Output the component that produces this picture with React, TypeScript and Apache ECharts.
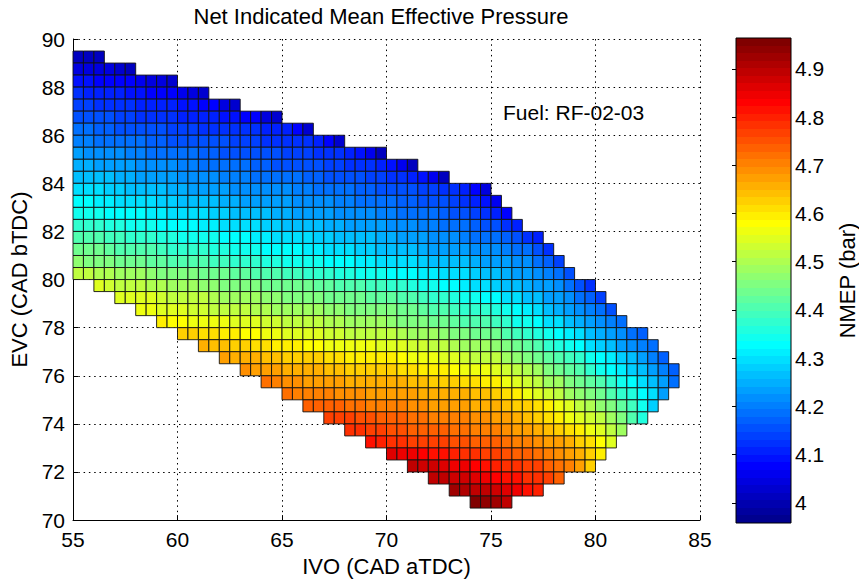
import React, { useEffect, useRef } from 'react';
import * as echarts from 'echarts';

const FONT = '"Liberation Sans", Arial, Helvetica, sans-serif';

const TITLE = 'Net Indicated Mean Effective Pressure';
const X_NAME = 'IVO (CAD aTDC)';
const Y_NAME = 'EVC (CAD bTDC)';
const CB_NAME = 'NMEP (bar)';
const FUEL_LABEL = 'Fuel: RF-02-03';

const xTicks = [55, 60, 65, 70, 75, 80, 85];
const yTicks = [70, 72, 74, 76, 78, 80, 82, 84, 86, 88, 90];
const colorbarTicks = [4.0, 4.1, 4.2, 4.3, 4.4, 4.5, 4.6, 4.7, 4.8, 4.9];
const colorRange = [3.958, 4.964];
const CELL = 0.5;

// lower edge of each row of cells (EVC)
const rowLowerEdges = [
  89, 88.5, 88, 87.5, 87, 86.5, 86, 85.5, 85, 84.5, 84, 83.5, 83, 82.5, 82, 81.5, 81, 80.5, 80,
  79.5, 79, 78.5, 78, 77.5, 77, 76.5, 76, 75.5, 75, 74.5, 74, 73.5, 73, 72.5, 72, 71.5, 71, 70.5,
];
// left edge of the first cell in each row (IVO)
const rowStarts = [
  55, 55, 55, 55, 55, 55, 55, 55, 55, 55, 55, 55, 55, 55, 55, 55, 55, 55, 55,
  56, 57, 58, 59, 60, 61, 62, 63, 64, 65, 66, 67, 68, 69, 70, 71, 72, 73, 74,
];
// NMEP of each cell, in hundredths of a bar, cells 0.5 CAD apart from the row start
const nmepRows: number[][] = [
  [402, 402, 401],
  [405, 405, 404, 404, 403, 402],
  [409, 409, 408, 408, 407, 407, 406, 405, 404, 403],
  [412, 411, 411, 410, 410, 409, 409, 408, 408, 407, 406, 405, 403],
  [414, 414, 413, 413, 412, 412, 411, 411, 410, 410, 409, 409, 408, 407, 405, 403],
  [416, 416, 415, 415, 414, 414, 413, 413, 412, 412, 411, 411, 410, 410, 409, 409, 408, 407, 405, 403],
  [418, 418, 417, 417, 416, 416, 416, 415, 415, 414, 414, 414, 413, 413, 413, 412, 412, 412, 411, 411, 410, 407, 403],
  [420, 420, 419, 419, 418, 418, 418, 417, 417, 416, 416, 416, 415, 415, 415, 414, 414, 414, 413, 413, 413, 412, 412, 410, 407, 403],
  [423, 422, 422, 421, 421, 420, 420, 419, 419, 418, 418, 418, 417, 417, 416, 416, 416, 415, 415, 415, 414, 414, 414, 413, 413, 412, 411, 409, 406, 402],
  [425, 425, 424, 424, 423, 423, 422, 422, 421, 421, 420, 420, 419, 419, 418, 418, 418, 417, 417, 416, 416, 416, 415, 415, 414, 414, 413, 413, 412, 411, 409, 406, 402],
  [427, 427, 426, 426, 425, 425, 424, 424, 423, 423, 422, 422, 421, 421, 420, 420, 420, 419, 419, 418, 418, 418, 417, 417, 416, 416, 415, 415, 414, 414, 413, 412, 411, 409, 406, 402],
  [430, 429, 429, 428, 428, 427, 427, 426, 426, 425, 425, 424, 424, 423, 423, 422, 422, 422, 421, 421, 421, 420, 420, 419, 419, 418, 418, 417, 417, 416, 416, 415, 415, 414, 414, 413, 412, 410, 408, 404],
  [432, 432, 431, 431, 430, 430, 429, 429, 428, 428, 427, 427, 426, 426, 425, 425, 424, 424, 424, 423, 423, 422, 422, 421, 421, 420, 420, 419, 419, 418, 418, 417, 417, 416, 416, 415, 414, 413, 411, 409, 406],
  [435, 434, 434, 433, 433, 432, 432, 431, 431, 430, 430, 429, 429, 428, 428, 427, 427, 426, 426, 425, 425, 424, 424, 423, 423, 422, 422, 421, 421, 420, 420, 419, 419, 418, 418, 417, 416, 415, 414, 413, 411, 408],
  [438, 437, 437, 436, 436, 435, 435, 434, 433, 433, 432, 432, 431, 431, 430, 430, 429, 429, 428, 428, 427, 427, 426, 426, 425, 425, 424, 424, 423, 423, 422, 422, 421, 420, 420, 419, 418, 418, 417, 416, 415, 413, 410],
  [441, 440, 440, 439, 439, 438, 437, 437, 436, 436, 435, 435, 434, 434, 433, 433, 432, 431, 431, 430, 430, 429, 429, 428, 428, 427, 427, 426, 426, 425, 425, 424, 424, 423, 422, 422, 421, 420, 419, 419, 418, 417, 415, 413, 411],
  [444, 443, 443, 442, 441, 441, 440, 440, 439, 438, 438, 437, 437, 436, 436, 435, 434, 434, 433, 433, 432, 432, 431, 431, 430, 429, 429, 428, 428, 427, 427, 426, 426, 425, 424, 424, 423, 423, 422, 421, 421, 420, 419, 418, 416, 413],
  [447, 446, 445, 445, 444, 444, 443, 442, 442, 441, 441, 440, 440, 439, 439, 438, 437, 437, 436, 436, 435, 435, 434, 434, 433, 432, 432, 431, 431, 430, 430, 429, 429, 428, 427, 427, 426, 426, 425, 424, 424, 423, 422, 421, 419, 417, 414],
  [452, 451, 450, 450, 449, 448, 448, 447, 446, 446, 445, 445, 444, 443, 443, 442, 442, 441, 440, 440, 439, 439, 438, 437, 437, 436, 436, 435, 434, 434, 433, 433, 432, 431, 431, 430, 429, 429, 428, 427, 426, 425, 424, 423, 422, 420, 418, 415],
  [454, 453, 452, 452, 451, 450, 450, 449, 448, 448, 447, 447, 446, 446, 445, 445, 444, 444, 444, 443, 443, 442, 442, 441, 440, 440, 439, 439, 438, 437, 436, 435, 434, 433, 432, 431, 430, 429, 428, 427, 426, 425, 424, 423, 421, 419, 416, 412],
  [455, 455, 454, 454, 453, 452, 452, 451, 451, 450, 449, 449, 448, 448, 447, 447, 446, 446, 445, 445, 444, 444, 443, 443, 442, 442, 442, 441, 440, 439, 438, 437, 436, 435, 434, 433, 432, 430, 429, 427, 426, 424, 423, 421, 419, 417, 414],
  [456, 456, 455, 455, 454, 453, 453, 452, 452, 451, 451, 450, 450, 449, 449, 449, 448, 448, 447, 447, 446, 446, 446, 445, 445, 444, 443, 442, 441, 440, 439, 438, 437, 437, 436, 434, 432, 431, 429, 427, 425, 424, 422, 420, 418, 416],
  [459, 458, 458, 457, 457, 456, 456, 455, 454, 454, 453, 453, 452, 452, 451, 451, 450, 450, 449, 449, 448, 448, 447, 446, 446, 445, 444, 443, 442, 441, 440, 440, 439, 437, 435, 434, 432, 430, 429, 427, 425, 424, 422, 420, 418],
  [463, 462, 461, 461, 460, 459, 458, 458, 457, 456, 455, 455, 454, 454, 453, 453, 452, 452, 452, 451, 451, 450, 449, 449, 448, 447, 446, 445, 444, 444, 443, 441, 439, 438, 436, 434, 432, 431, 429, 427, 425, 423, 421, 419, 417],
  [465, 464, 464, 463, 462, 461, 461, 460, 459, 459, 458, 458, 457, 457, 456, 456, 456, 455, 455, 454, 453, 453, 452, 451, 450, 449, 448, 448, 447, 445, 443, 442, 440, 438, 436, 434, 432, 430, 428, 426, 424, 422, 420, 418],
  [467, 466, 466, 465, 464, 464, 463, 463, 462, 462, 461, 461, 460, 460, 460, 459, 459, 458, 457, 457, 456, 455, 454, 453, 452, 452, 451, 449, 447, 446, 444, 442, 440, 439, 437, 435, 433, 431, 428, 426, 423, 420, 417],
  [469, 468, 467, 467, 466, 466, 465, 465, 464, 464, 463, 463, 463, 462, 462, 461, 461, 460, 459, 459, 458, 457, 456, 456, 455, 453, 451, 450, 448, 446, 444, 442, 440, 438, 435, 433, 431, 428, 426, 423, 420, 417],
  [472, 470, 469, 469, 468, 468, 467, 467, 466, 466, 466, 465, 465, 465, 464, 464, 463, 463, 462, 461, 461, 460, 459, 457, 455, 453, 451, 449, 448, 446, 444, 442, 440, 437, 435, 433, 430, 427, 423, 419],
  [472, 471, 471, 470, 470, 469, 469, 469, 468, 468, 467, 467, 467, 466, 466, 465, 465, 465, 464, 464, 463, 461, 459, 457, 455, 453, 451, 449, 447, 445, 443, 441, 438, 436, 433, 429, 424],
  [474, 474, 473, 473, 472, 472, 471, 471, 470, 470, 469, 469, 468, 468, 467, 467, 466, 466, 465, 464, 463, 462, 461, 459, 457, 454, 452, 450, 447, 445, 442, 439, 435, 428],
  [477, 476, 476, 475, 475, 474, 473, 473, 472, 472, 471, 471, 470, 470, 469, 469, 468, 467, 466, 464, 462, 461, 459, 457, 455, 453, 451, 448, 445, 441, 436],
  [479, 478, 477, 476, 475, 475, 474, 474, 473, 473, 472, 472, 471, 471, 470, 469, 468, 467, 466, 464, 463, 461, 459, 457, 454, 452, 449],
  [482, 480, 478, 478, 477, 477, 476, 476, 475, 475, 474, 474, 473, 472, 471, 470, 469, 468, 467, 465, 463, 461, 458, 454],
  [486, 485, 484, 483, 482, 481, 480, 479, 478, 477, 476, 475, 474, 473, 472, 471, 469, 467, 465, 462, 459],
  [489, 488, 487, 486, 485, 484, 483, 482, 480, 479, 478, 477, 476, 474, 472, 470, 467, 463],
  [490, 489, 488, 487, 486, 485, 483, 482, 481, 479, 478, 476, 473],
  [492, 491, 490, 489, 487, 486, 484, 482, 480],
  [495, 494, 492, 490],
];

// MATLAB jet(64) colormap
function jetMap(m: number): string[] {
  const n = Math.ceil(m / 4);
  const u: number[] = [];
  for (let i = 1; i <= n; i++) u.push(i / n);
  for (let i = 0; i < n - 1; i++) u.push(1);
  for (let i = n; i >= 1; i--) u.push(i / n);
  const g0 = Math.ceil(n / 2) - (m % 4 === 1 ? 1 : 0);
  const R = new Array(m).fill(0);
  const G = new Array(m).fill(0);
  const B = new Array(m).fill(0);
  for (let k = 0; k < u.length; k++) {
    const g = g0 + k + 1;
    const r = g + n;
    const b = g - n;
    if (g >= 1 && g <= m) G[g - 1] = u[k];
    if (r >= 1 && r <= m) R[r - 1] = u[k];
    if (b >= 1 && b <= m) B[b - 1] = u[k];
  }
  const h = (v: number) => Math.round(v * 255).toString(16).padStart(2, '0');
  return R.map((_, i) => '#' + h(R[i]) + h(G[i]) + h(B[i]));
}
const JET = jetMap(64);
function colorOf(v: number): string {
  const t = (v - colorRange[0]) / (colorRange[1] - colorRange[0]);
  const idx = Math.min(JET.length - 1, Math.max(0, Math.floor(t * JET.length)));
  return JET[idx];
}

const cells: number[][] = [];
nmepRows.forEach((row, r) => {
  row.forEach((v, i) => {
    cells.push([rowStarts[r] + i * CELL, rowLowerEdges[r], v / 100]);
  });
});

const gradientStops: { offset: number; color: string }[] = [];
JET.forEach((c, k) => {
  gradientStops.push({ offset: k / JET.length, color: c });
  gradientStops.push({ offset: (k + 1) / JET.length, color: c });
});

const gridLine = { show: true, lineStyle: { color: '#000', width: 1, type: [1.5, 3.8] as number[] } };

export default function App() {
  const ref = useRef<HTMLDivElement>(null);
  useEffect(() => {
    const chart = echarts.init(ref.current!, null, { renderer: 'svg' });
    const option: any = {
      animation: false,
      backgroundColor: '#ffffff',
      textStyle: { fontFamily: FONT, color: '#000' },
      title: {
        text: TITLE,
        left: 381,
        top: 5,
        padding: 0,
        textAlign: 'center',
        textStyle: { fontFamily: FONT, fontSize: 22, fontWeight: 'normal', color: '#000' },
      },
      graphic: [
        {
          type: 'text',
          x: 503,
          y: 112,
          style: {
            text: FUEL_LABEL,
            fontFamily: FONT,
            fontSize: 21,
            fill: '#000',
            align: 'left',
            verticalAlign: 'middle',
          },
        },
      ],
      grid: [
        { left: 73, top: 39, width: 627, height: 483, containLabel: false },
        { left: 736, top: 38, width: 56, height: 485, containLabel: false },
      ],
      xAxis: [
        {
          type: 'value',
          gridIndex: 0,
          min: xTicks[0],
          max: xTicks[xTicks.length - 1],
          interval: 5,
          name: X_NAME,
          nameLocation: 'middle',
          nameGap: 33,
          nameTextStyle: { fontFamily: FONT, fontSize: 22, color: '#000' },
          axisLine: { show: true, onZero: false, lineStyle: { color: '#000', width: 1 } },
          axisTick: { show: true, inside: true, length: 5, lineStyle: { color: '#000' } },
          axisLabel: { fontFamily: FONT, fontSize: 21, color: '#000', margin: 9 },
          splitLine: gridLine,
        },
        { type: 'value', gridIndex: 1, min: 0, max: 1, show: false },
      ],
      yAxis: [
        {
          type: 'value',
          gridIndex: 0,
          min: yTicks[0],
          max: yTicks[yTicks.length - 1],
          interval: 2,
          name: Y_NAME,
          nameLocation: 'middle',
          nameRotate: 90,
          nameGap: 42,
          nameTextStyle: { fontFamily: FONT, fontSize: 22, color: '#000' },
          axisLine: { show: true, onZero: false, lineStyle: { color: '#000', width: 1 } },
          axisTick: { show: true, inside: true, length: 5, lineStyle: { color: '#000' } },
          axisLabel: { fontFamily: FONT, fontSize: 21, color: '#000', margin: 8 },
          splitLine: gridLine,
        },
        {
          type: 'value',
          gridIndex: 1,
          position: 'right',
          min: colorRange[0],
          max: colorRange[1],
          name: CB_NAME,
          nameLocation: 'middle',
          nameRotate: 90,
          nameGap: 45,
          nameTextStyle: { fontFamily: FONT, fontSize: 22, color: '#000' },
          axisLine: { show: false },
          axisTick: { show: true, inside: true, length: 4, customValues: colorbarTicks, lineStyle: { color: '#000' } },
          axisLabel: {
            fontFamily: FONT,
            fontSize: 21,
            color: '#000',
            margin: 4,
            customValues: colorbarTicks,
            formatter: (v: number) => String(Math.round(v * 10) / 10),
          },
          splitLine: { show: false },
        },
        {
          type: 'value',
          gridIndex: 1,
          position: 'left',
          min: colorRange[0],
          max: colorRange[1],
          axisLine: { show: false },
          axisTick: { show: true, inside: true, length: 4, customValues: colorbarTicks, lineStyle: { color: '#000' } },
          axisLabel: { show: false },
          splitLine: { show: false },
        },
      ],
      series: [
        {
          type: 'custom',
          xAxisIndex: 0,
          yAxisIndex: 0,
          data: cells,
          renderItem: (params: any, api: any) => {
            const x0 = api.value(0);
            const y0 = api.value(1);
            const v = api.value(2);
            const p1 = api.coord([x0, y0 + CELL]);
            const p2 = api.coord([x0 + CELL, y0]);
            return {
              type: 'rect',
              shape: { x: p1[0], y: p1[1], width: p2[0] - p1[0], height: p2[1] - p1[1] },
              style: { fill: colorOf(v), stroke: '#111', lineWidth: 0.9 },
            };
          },
          z: 3,
        },
        {
          type: 'custom',
          xAxisIndex: 1,
          yAxisIndex: 1,
          data: [[0, colorRange[0]]],
          renderItem: (params: any, api: any) => {
            const p0 = api.coord([0, colorRange[0]]);
            const p1 = api.coord([1, colorRange[1]]);
            return {
              type: 'group',
              children: [
                {
                  type: 'rect',
                  shape: { x: p0[0], y: p1[1], width: p1[0] - p0[0], height: p0[1] - p1[1] },
                  style: {
                    fill: new echarts.graphic.LinearGradient(0, 1, 0, 0, gradientStops),
                    stroke: '#000',
                    lineWidth: 1,
                  },
                },
              ],
            };
          },
          z: 1,
        },
      ],
    };
    chart.setOption(option);
    return () => chart.dispose();
  }, []);
  return (
    <div
      ref={ref}
      style={{ position: 'fixed', left: 0, top: 0, width: 859, height: 582, background: '#fff' }}
    />
  );
}
